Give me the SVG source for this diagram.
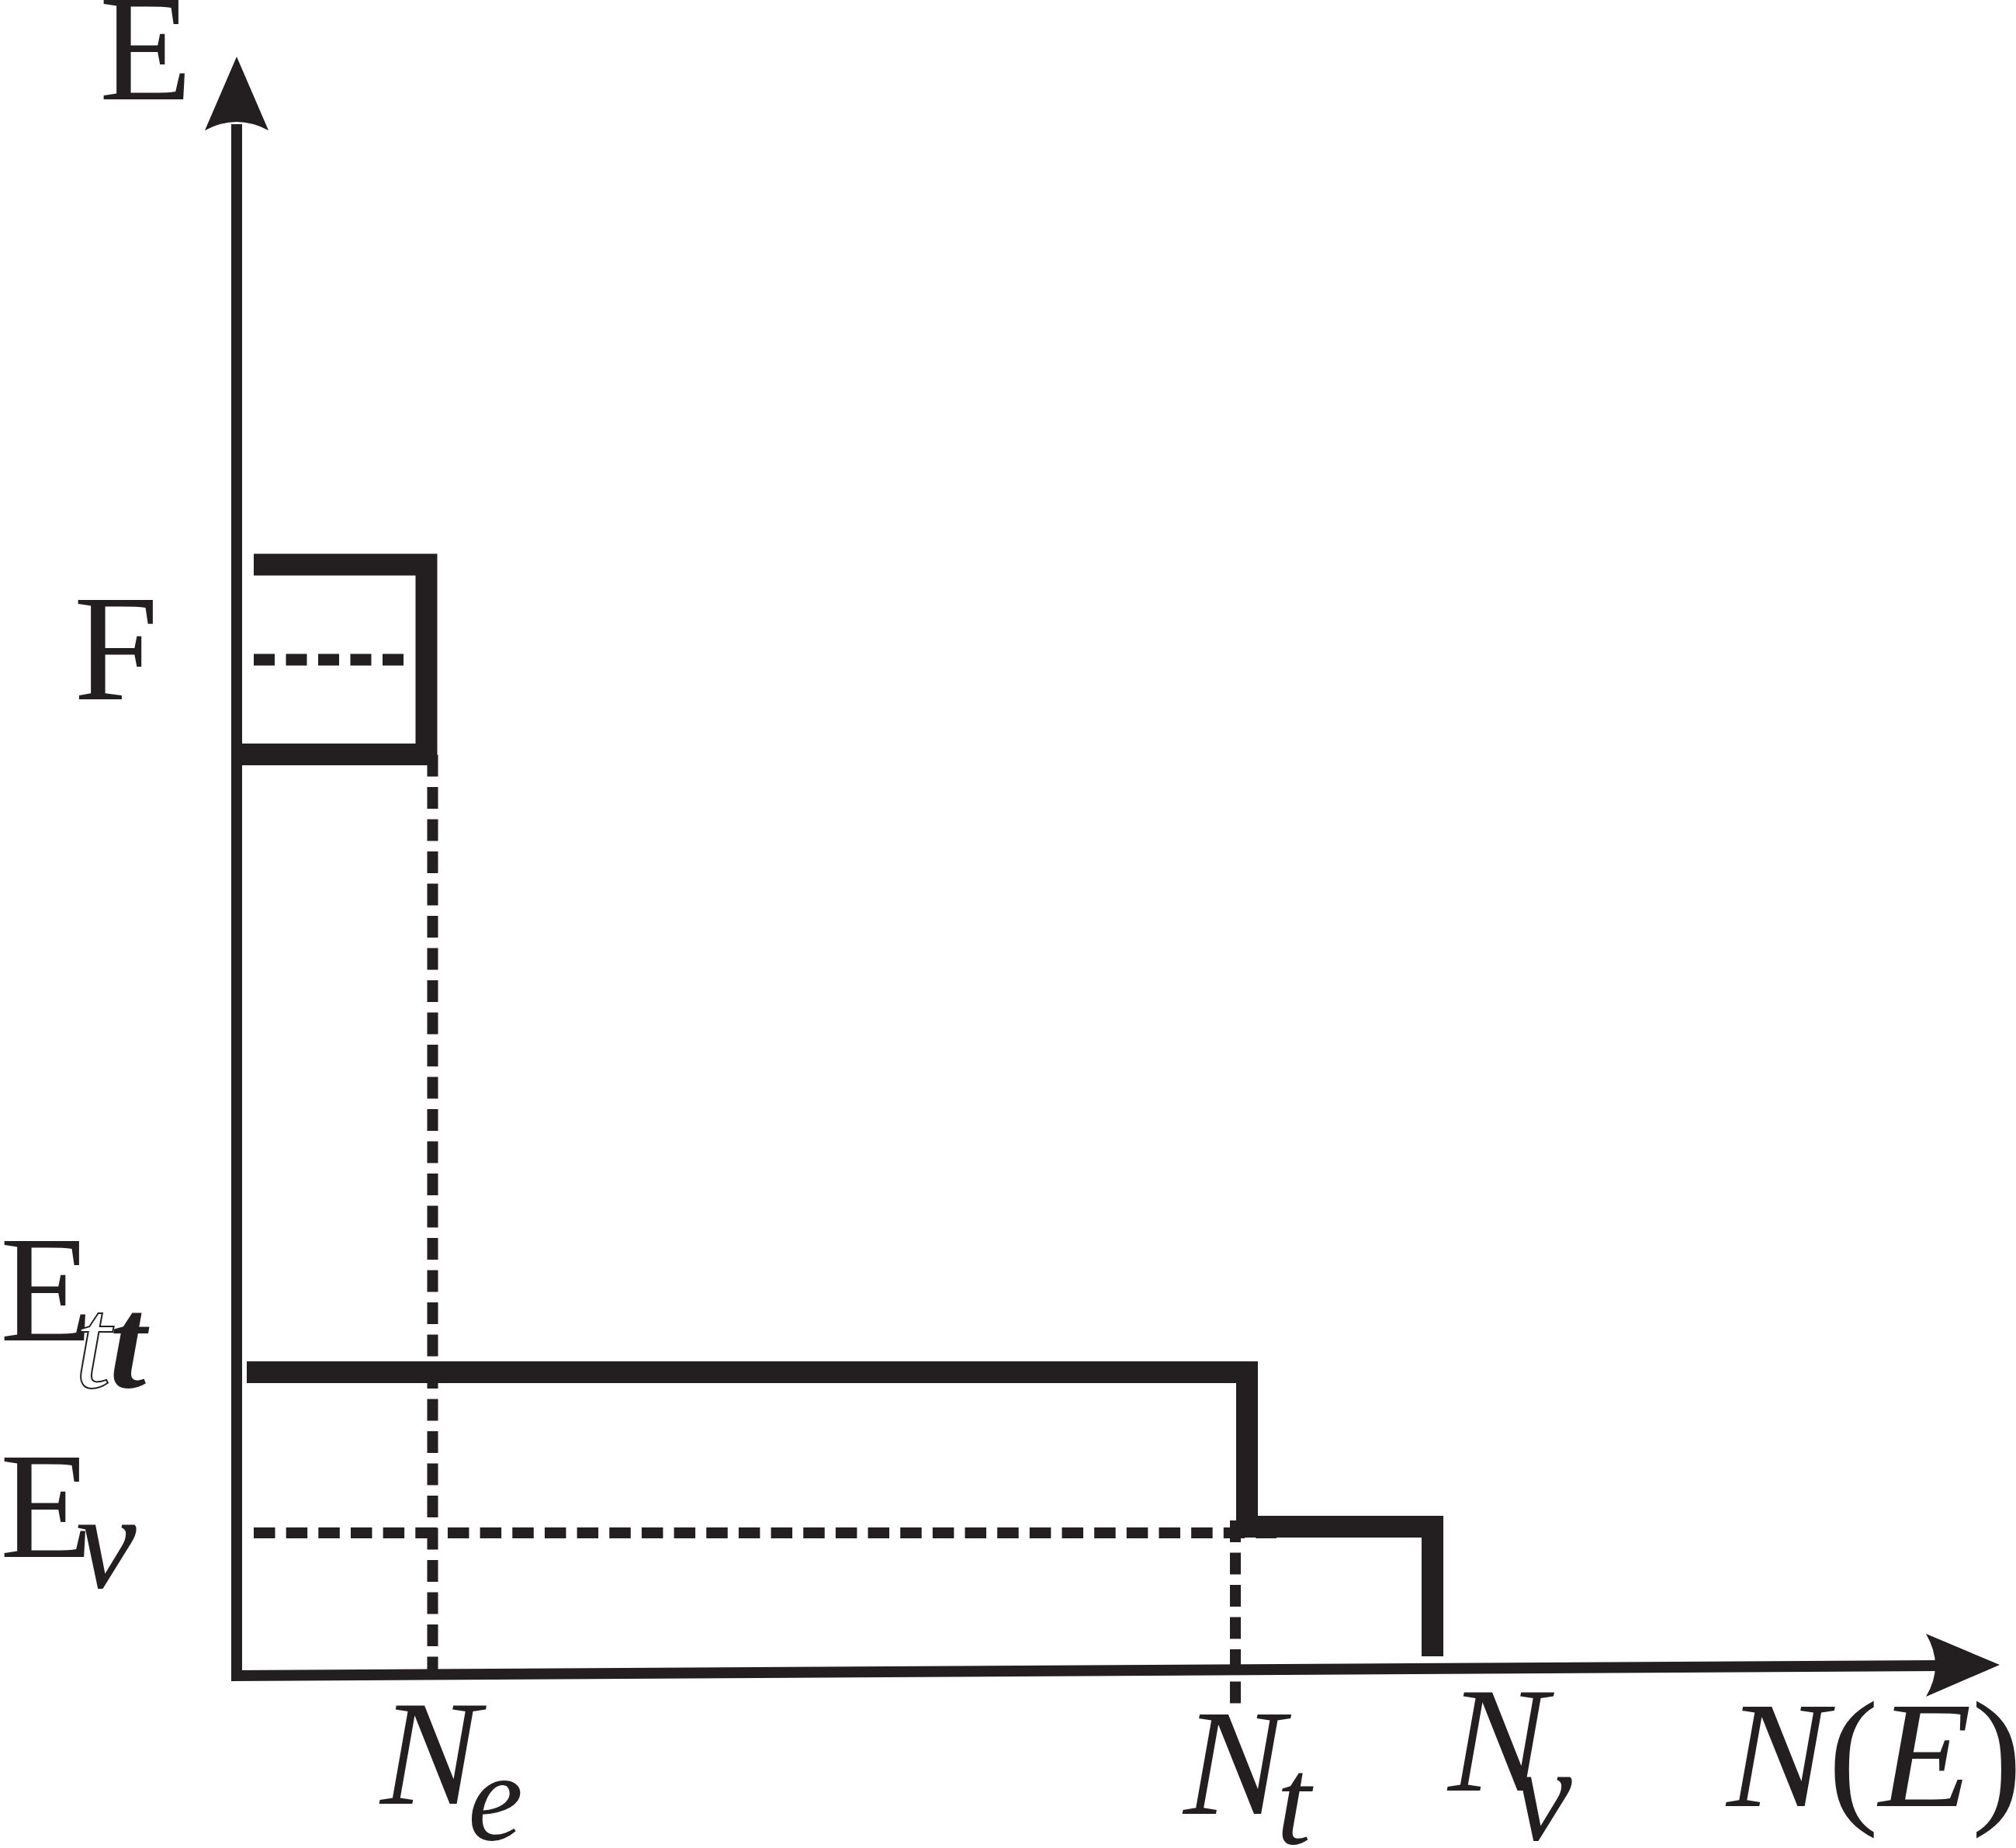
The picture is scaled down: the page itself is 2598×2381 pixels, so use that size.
<svg xmlns="http://www.w3.org/2000/svg" width="2598" height="2381" viewBox="0 0 2598 2381">
<style>
.ln{fill:none;stroke:#231f20;stroke-linejoin:miter;stroke-linecap:butt}
.ax{stroke-width:14}
.thick{stroke-width:28}
.dash{stroke-width:14}
.lbl{font-family:"Liberation Serif","Times New Roman",serif;fill:#231f20}
.it{font-style:italic}
.head{fill:#231f20;stroke:none}
</style>
<rect width="2598" height="2381" fill="#fff"/>
<g id="axes">
  <path class="ln ax" d="M305,160 V2159 L2500,2146"/>
  <path class="head" d="M305,73 L346,168 Q305,146 264,168 Z"/>
  <path class="head" d="M2577,2145 L2482,2105 Q2506,2146 2482,2186 Z"/>
</g>
<g id="curves">
  <path id="box" class="ln thick" d="M327,727.5 H549.5 V972 H298"/>
  <path id="step" class="ln thick" d="M318,1768 H1607 V1967 H1846 V2134"/>
</g>
<g id="guides">
  <line class="ln" stroke-width="15" x1="327" y1="850" x2="521" y2="850" stroke-dasharray="27 14.5"/>
  <line class="ln dash" x1="557.5" y1="972.5" x2="557.5" y2="2166" stroke-dasharray="28 13.5"/>
  <line class="ln dash" x1="327" y1="1975" x2="1645" y2="1975" stroke-dasharray="27.5 14.16"/>
  <line class="ln dash" x1="1592" y1="1959" x2="1592" y2="2195" stroke-dasharray="28 13.5"/>
</g>
<g id="labels">
  <text id="lbl-E" class="lbl" x="128" y="128" font-size="196">E</text>
  <text id="lbl-F" class="lbl" x="95" y="901" font-size="196">F</text>
  <g id="lbl-Et">
    <text class="lbl" x="0" y="1727" font-size="196">E</text>
    <text class="lbl it" x="96" y="1787" font-size="170" stroke="#231f20" stroke-width="2" style="fill:#fff">t</text>
    <text class="lbl it" x="141" y="1787" font-size="170" font-weight="bold">t</text>
  </g>
  <g id="lbl-Ev">
    <text class="lbl" x="0" y="2006" font-size="196">E</text>
    <text class="lbl it" x="98" y="2045" font-size="175">v</text>
  </g>
  <g id="lbl-Ne">
    <text class="lbl it" x="490" y="2324" font-size="192">N</text>
    <text class="lbl it" x="603" y="2370" font-size="160">e</text>
  </g>
  <g id="lbl-Nt">
    <text class="lbl it" x="1525" y="2337" font-size="195">N</text>
    <text class="lbl it" x="1645" y="2375" font-size="160">t</text>
  </g>
  <g id="lbl-Nv">
    <text class="lbl it" x="1866" y="2307" font-size="192">N</text>
    <text class="lbl it" x="1948" y="2370" font-size="175">v</text>
  </g>
  <text id="lbl-NE" class="lbl" x="2225" y="2327" font-size="196"><tspan class="it">N</tspan>(<tspan class="it">E</tspan>)</text>
</g>
</svg>
